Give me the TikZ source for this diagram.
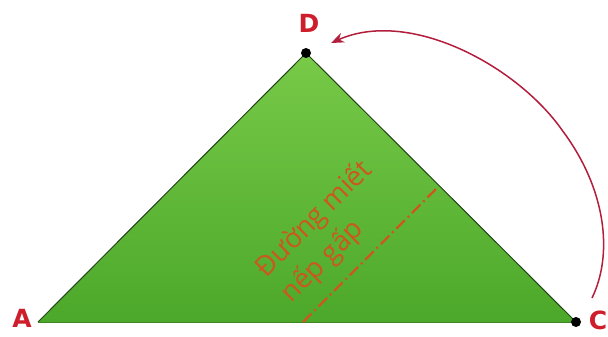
\documentclass[tikz,border=0pt]{standalone}
\usepackage{fontspec}
\setmainfont{Open Sans}
\newfontfamily\lblfont{DejaVu Sans}
\usetikzlibrary{arrows.meta}
\definecolor{lblred}{RGB}{206,30,44}
\definecolor{arrred}{RGB}{178,30,60}
\definecolor{foldor}{RGB}{204,88,30}
\definecolor{greentop}{RGB}{120,202,72}
\definecolor{greenbot}{RGB}{76,168,42}
\definecolor{edgegreen}{RGB}{36,70,24}
\tikzset{
  vlabel/.style={font=\lblfont\bfseries\fontsize{25}{25}\selectfont, text=lblred, inner sep=0pt},
  vdot/.style={circle, fill=black, inner sep=0pt, minimum size=10pt},
  foldline/.style={draw=foldor, line width=2.4pt, dash pattern=on 12pt off 4pt on 2pt off 4pt},
  foldtext/.style={font=\fontsize{27.5}{36}\selectfont, text=foldor, rotate=45, align=left, inner sep=0pt},
  turnarrow/.style={draw=arrred, line width=1.5pt, -{Stealth[length=13pt,width=10pt]}}
}
\begin{document}
\begin{tikzpicture}[x=1pt,y=-1pt]
\useasboundingbox (0,0) rectangle (608,337);
\coordinate (A) at (38,322);
\coordinate (D) at (306,53);
\coordinate (C) at (576,322);
\fill[top color=greentop, bottom color=greenbot] (A) -- (D) -- (C) -- cycle;
\draw[edgegreen, line width=1pt, line join=round] (A) -- (D) -- (C);
\draw[greenbot!80!black, line width=1pt] (A) -- (C);
\coordinate (F1) at (303,322);
\coordinate (F2) at (438,187);
\draw[foldline] (F1) -- (F2);
\node[foldtext] (T) at (327,232) {Đường miết\\nếp gấp};
\node[vdot] (Ddot) at (D) {};
\node[vdot] (Cdot) at (C) {};
\node[vlabel] (LA) at (22,318) {A};
\node[vlabel] (LD) at (309,23) {D};
\node[vlabel] (LC) at (598,320) {C};
\coordinate (arrS) at (592,298);
\coordinate (arrM) at (562,130);
\coordinate (arrE) at (331,43);
\draw[turnarrow] (arrS) .. controls (613,255) and (607,190) .. (arrM) .. controls (517,66) and (410,8) .. (arrE);
\end{tikzpicture}
\end{document}
